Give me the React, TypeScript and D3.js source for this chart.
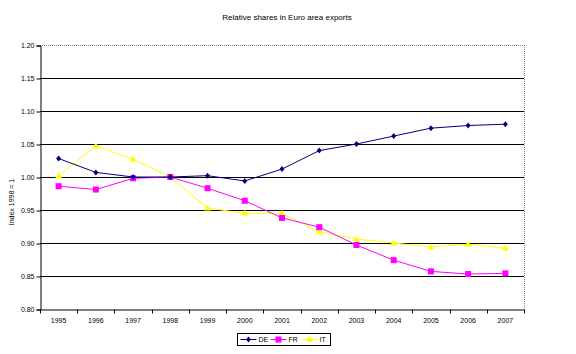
import { useEffect, useRef } from 'react';
import * as d3 from 'd3';

const years = ['1995', '1996', '1997', '1998', '1999', '2000', '2001', '2002', '2003', '2004', '2005', '2006', '2007'];
const deValues = [1.028, 1.007, 1.0, 1.0, 1.002, 0.994, 1.012, 1.04, 1.05, 1.062, 1.074, 1.078, 1.08];
const frValues = [0.986, 0.981, 0.998, 1.0, 0.983, 0.964, 0.938, 0.924, 0.897, 0.874, 0.857, 0.853, 0.854];
const itValues = [1.002, 1.047, 1.027, 1.0, 0.953, 0.945, 0.945, 0.917, 0.906, 0.9, 0.894, 0.898, 0.892];
const yTicks = [0.8, 0.85, 0.9, 0.95, 1.0, 1.05, 1.1, 1.15, 1.2];

const series = [
	{ name: 'DE', values: deValues, color: '#000080', marker: 'diamond' },
	{ name: 'FR', values: frValues, color: '#ff00ff', marker: 'square' },
	{ name: 'IT', values: itValues, color: '#ffff00', marker: 'triangle' },
];

const FONT = 'Liberation Sans, Arial, sans-serif';

export default function App() {
	const svgRef = useRef<SVGSVGElement>(null);

	useEffect(() => {
		if (!svgRef.current) return;
		const svg = d3.select(svgRef.current);
		svg.selectAll('*').remove();

		const width = 576;
		const height = 354;
		const margin = { top: 45, right: 52, bottom: 45, left: 40 };
		const chartWidth = width - margin.left - margin.right;
		const chartHeight = height - margin.top - margin.bottom;

		svg.append('rect').attr('width', width).attr('height', height).attr('fill', '#fff');

		// Title
		svg
			.append('text')
			.attr('x', 287)
			.attr('y', 20)
			.attr('text-anchor', 'middle')
			.style('font-family', FONT)
			.style('font-size', '8px')
			.text('Relative shares in Euro area exports');

		const g = svg.append('g').attr('transform', `translate(${margin.left},${margin.top})`);

		const xScale = d3.scaleBand().domain(years).range([0, chartWidth]);
		const yScale = d3.scaleLinear().domain([0.8, 1.2]).range([chartHeight, 0]);

		// Grid lines
		g.append('g')
			.selectAll('line')
			.data(yTicks.slice(1, -1))
			.enter()
			.append('line')
			.attr('x1', 0)
			.attr('x2', chartWidth)
			.attr('y1', (d) => Math.round(yScale(d)) + 0.5)
			.attr('y2', (d) => Math.round(yScale(d)) + 0.5)
			.attr('stroke', '#000')
			.attr('stroke-width', 1);

		// Plot border (top / right dotted grey)
		g.append('line')
			.attr('x1', 0)
			.attr('x2', chartWidth)
			.attr('y1', 0.5)
			.attr('y2', 0.5)
			.attr('stroke', '#808080')
			.attr('stroke-dasharray', '1,1');
		g.append('line')
			.attr('x1', chartWidth + 0.5)
			.attr('x2', chartWidth + 0.5)
			.attr('y1', 0)
			.attr('y2', chartHeight)
			.attr('stroke', '#808080')
			.attr('stroke-dasharray', '1,1');

		// Y axis
		const yAxis = g
			.append('g')
			.attr('transform', 'translate(0.5,0.5)')
			.call(
				d3
					.axisLeft(yScale)
					.tickValues(yTicks)
					.tickSize(4)
					.tickPadding(2)
					.tickFormat((d) => d3.format('.2f')(d as number))
			);
		yAxis.select('.domain').attr('stroke', '#000');
		yAxis.selectAll('text').style('font-family', FONT).style('font-size', '7px').attr('fill', '#000');

		// X axis
		const xAxis = g
			.append('g')
			.attr('transform', `translate(0,${chartHeight + 0.5})`)
			.call(d3.axisBottom(xScale).tickSize(0).tickPadding(9));
		xAxis.select('.domain').attr('stroke', '#000');
		xAxis.selectAll('text').style('font-family', FONT).style('font-size', '7px').attr('fill', '#000');
		xAxis
			.selectAll('.boundary')
			.data(d3.range(years.length + 1))
			.enter()
			.append('line')
			.attr('x1', (i) => Math.round(i * xScale.step()) + 0.5)
			.attr('x2', (i) => Math.round(i * xScale.step()) + 0.5)
			.attr('y1', 0)
			.attr('y2', 4)
			.attr('stroke', '#000');

		// Y label
		svg
			.append('text')
			.attr('transform', 'translate(14,202) rotate(-90)')
			.attr('text-anchor', 'middle')
			.style('font-family', FONT)
			.style('font-size', '7px')
			.text('Index 1998 = 1');

		const cx = (i: number) => (xScale(years[i]) || 0) + xScale.bandwidth() / 2;

		const drawMarker = (sel: d3.Selection<SVGGElement, unknown, null, undefined>, type: string, color: string, x: number, y: number) => {
			if (type === 'diamond') {
				sel.append('path')
					.attr('d', `M${x},${y - 3}L${x + 2.5},${y}L${x},${y + 3}L${x - 2.5},${y}Z`)
					.attr('fill', color);
			} else if (type === 'square') {
				sel.append('rect')
					.attr('x', x - 3)
					.attr('y', y - 3)
					.attr('width', 6)
					.attr('height', 6)
					.attr('fill', color);
			} else {
				sel.append('path')
					.attr('d', `M${x},${y - 3.5}L${x + 3.5},${y + 2.5}L${x - 3.5},${y + 2.5}Z`)
					.attr('fill', color);
			}
		};

		const line = d3
			.line<number>()
			.x((_, i) => cx(i))
			.y((d) => yScale(d));

		series
			.slice()
			.reverse()
			.forEach((s) => {
				const sg = g.append('g');
				sg.append('path').datum(s.values).attr('d', line).attr('fill', 'none').attr('stroke', s.color).attr('stroke-width', 1);
				s.values.forEach((v, i) => drawMarker(sg, s.marker, s.color, cx(i), yScale(v)));
			});

		// Legend
		const legend = svg.append('g').attr('transform', 'translate(237.5,333.5)');
		legend.append('rect').attr('width', 93).attr('height', 12).attr('fill', '#fff').attr('stroke', '#000');
		const itemX = [3, 33, 64];
		series.forEach((s, i) => {
			const lg = legend.append('g');
			const x0 = itemX[i];
			lg.append('line')
				.attr('x1', x0)
				.attr('x2', x0 + 16)
				.attr('y1', 6)
				.attr('y2', 6)
				.attr('stroke', s.color)
				.attr('stroke-width', 1);
			drawMarker(lg, s.marker, s.color, x0 + 8, 6);
			lg.append('text')
				.attr('x', x0 + 18)
				.attr('y', 8.5)
				.style('font-family', FONT)
				.style('font-size', '7px')
				.text(s.name);
		});
	}, []);

	return (
		<div style={{ margin: -8 }}>
			<svg ref={svgRef} width={576} height={354} style={{ display: 'block' }}></svg>
		</div>
	);
}
